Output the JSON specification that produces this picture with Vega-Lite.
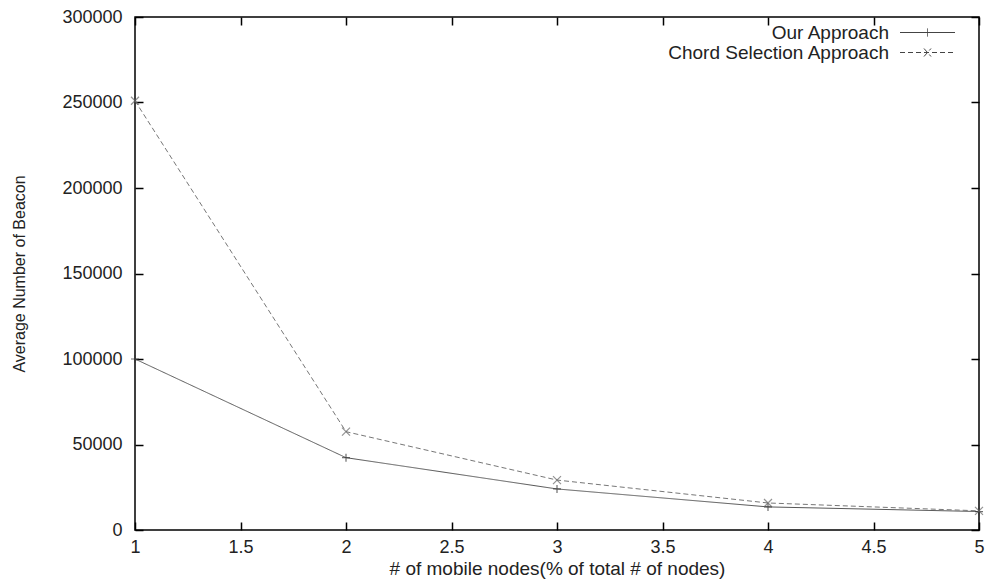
{
  "$schema": "https://vega.github.io/schema/vega-lite/v6.json",
  "width": 844,
  "height": 513,
  "autosize": {"type": "none"},
  "padding": {"left": 135, "top": 17, "right": 11, "bottom": 52},
  "background": "white",
  "config": {
    "font": "Liberation Sans",
    "view": {"stroke": "black", "strokeWidth": 1.5},
    "axis": {
      "grid": false, "domain": false, "tickColor": "black", "tickWidth": 1.5, "tickSize": -8,
      "labelColor": "#222", "titleColor": "#222", "labelFont": "Liberation Sans", "titleFont": "Liberation Sans",
      "titleFontWeight": "normal", "labelFontSize": 18, "titleFontSize": 19, "labelFlush": false
    }
  },
  "data": {
    "values": [
      {"series": "Our Approach", "x": 1, "y": 100000},
      {"series": "Our Approach", "x": 2, "y": 42300},
      {"series": "Our Approach", "x": 3, "y": 24000},
      {"series": "Our Approach", "x": 4, "y": 13500},
      {"series": "Our Approach", "x": 5, "y": 10800},
      {"series": "Chord Selection Approach", "x": 1, "y": 251000},
      {"series": "Chord Selection Approach", "x": 2, "y": 57500},
      {"series": "Chord Selection Approach", "x": 3, "y": 29200},
      {"series": "Chord Selection Approach", "x": 4, "y": 15800},
      {"series": "Chord Selection Approach", "x": 5, "y": 11200}
    ]
  },
  "layer": [
    {
      "mark": {"type": "line", "strokeWidth": 1},
      "encoding": {
        "x": {"field": "x", "type": "quantitative", "scale": {"domain": [1, 5], "nice": false, "zero": false},
          "axis": {"orient": "bottom", "values": [1, 1.5, 2, 2.5, 3, 3.5, 4, 4.5, 5], "format": "~g",
            "title": "# of mobile nodes(% of total # of nodes)", "labelPadding": 16, "titlePadding": 3}},
        "y": {"field": "y", "type": "quantitative", "scale": {"domain": [0, 300000], "nice": false},
          "axis": {"orient": "left", "values": [0, 50000, 100000, 150000, 200000, 250000, 300000], "format": "d",
            "title": "Average Number of Beacon", "titleFontSize": 16, "labelPadding": 21, "titlePadding": 34}},
        "color": {"field": "series", "type": "nominal",
          "scale": {"domain": ["Our Approach", "Chord Selection Approach"], "range": ["#555555", "#777777"]}, "legend": null},
        "strokeDash": {"field": "series", "type": "nominal",
          "scale": {"domain": ["Our Approach", "Chord Selection Approach"], "range": [[1, 0], [5, 3]]},
          "legend": {
            "title": null, "orient": "top-right", "offset": 6, "symbolSize": 100, "rowPadding": -3,
            "labelAlign": "right", "labelOffset": -48, "labelLimit": 0, "labelFontSize": 19, "labelColor": "#222",
            "labelFont": "Liberation Sans", "symbolStrokeColor": "#444444", "symbolStrokeWidth": 1,
            "symbolFillColor": "transparent",
            "encode": {
              "symbols": {
                "update": {
                  "shape": {"signal": "datum.value === 'Our Approach' ? 'M-5.5,0L5.5,0M0,-0.8L0,0.8M8.7,0' : 'M-5.5,0L5.5,0M-0.7,-0.8L0.7,0.8M-0.7,0.8L0.7,-0.8M8.7,0'"},
                  "stroke": {"value": "#444444"},
                  "strokeWidth": {"value": 1},
                  "fill": {"value": "transparent"},
                  "opacity": {"value": 1}
                }
              }
            }
          }
        }
      }
    },
    {
      "transform": [{"filter": "datum.series === 'Our Approach'"}],
      "mark": {"type": "point", "filled": false, "size": 64, "strokeWidth": 1.2, "shape": "M-1,0H1M0,-1V1", "color": "#333333"},
      "encoding": {
        "x": {"field": "x", "type": "quantitative", "scale": {"domain": [1, 5], "nice": false, "zero": false},
          "axis": {"orient": "top", "values": [1, 1.5, 2, 2.5, 3, 3.5, 4, 4.5, 5], "labels": false, "title": null}},
        "y": {"field": "y", "type": "quantitative", "scale": {"domain": [0, 300000], "nice": false},
          "axis": {"orient": "right", "values": [0, 50000, 100000, 150000, 200000, 250000, 300000], "labels": false, "title": null}}
      }
    },
    {
      "transform": [{"filter": "datum.series === 'Chord Selection Approach'"}],
      "mark": {"type": "point", "filled": false, "size": 64, "strokeWidth": 1.2, "shape": "M-1,-1L1,1M-1,1L1,-1", "color": "#666666"},
      "encoding": {
        "x": {"field": "x", "type": "quantitative", "scale": {"domain": [1, 5], "nice": false, "zero": false}, "axis": null},
        "y": {"field": "y", "type": "quantitative", "scale": {"domain": [0, 300000], "nice": false}, "axis": null}
      }
    }
  ],
  "resolve": {"axis": {"x": "independent", "y": "independent"}, "scale": {"color": "independent"}}
}
